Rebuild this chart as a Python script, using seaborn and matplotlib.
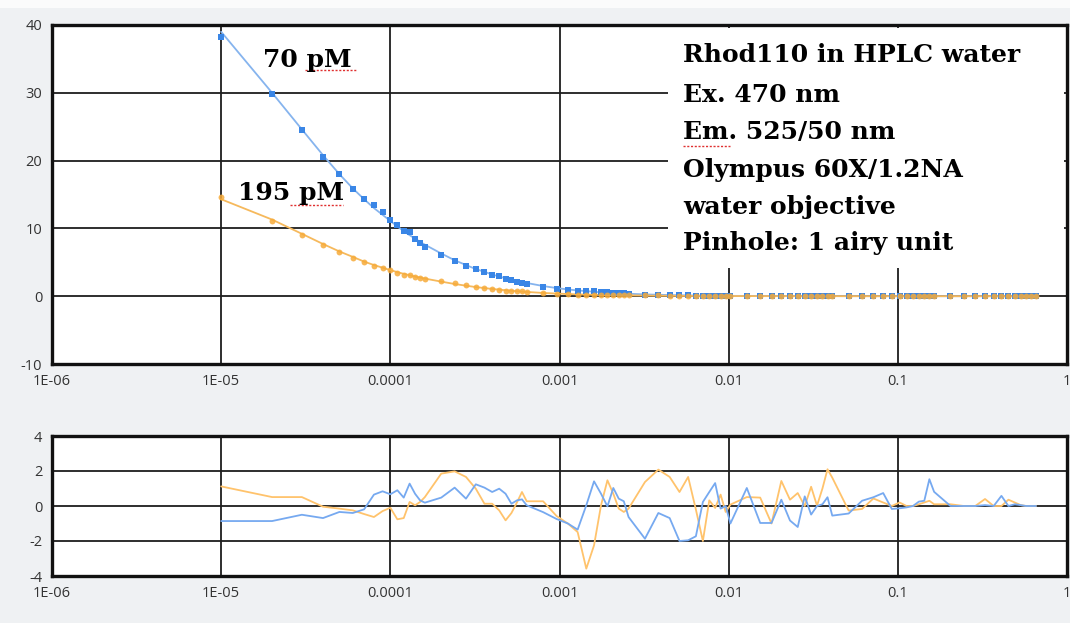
import numpy as np
import pandas as pd
import matplotlib
matplotlib.use("Agg")
import matplotlib.pyplot as plt
import seaborn as sns
from matplotlib.patches import Rectangle
from matplotlib.lines import Line2D

# ---------------- data ----------------
lag = [1e-5, 2e-5, 3e-5, 4e-5, 5e-5, 6e-5, 7e-5, 8e-5, 9e-5, 1.0e-4, 1.1e-4, 1.2e-4, 1.3e-4, 1.4e-4, 1.5e-4, 1.6e-4,
       2.0e-4, 2.4e-4, 2.8e-4, 3.2e-4, 3.6e-4, 4.0e-4, 4.4e-4, 4.8e-4, 5.2e-4, 5.6e-4, 6.0e-4, 6.4e-4,
       8.0e-4, 9.6e-4, 1.12e-3, 1.28e-3, 1.44e-3, 1.6e-3, 1.76e-3, 1.92e-3, 2.08e-3, 2.24e-3, 2.4e-3, 2.56e-3,
       3.2e-3, 3.84e-3, 4.48e-3, 5.12e-3, 5.76e-3, 6.4e-3, 7.04e-3, 7.68e-3, 8.32e-3, 8.96e-3, 9.6e-3, 1.024e-2,
       1.28e-2, 1.536e-2, 1.792e-2, 2.048e-2, 2.304e-2, 2.56e-2, 2.816e-2, 3.072e-2, 3.328e-2, 3.584e-2, 3.84e-2, 4.096e-2,
       5.12e-2, 6.144e-2, 7.168e-2, 8.192e-2, 9.216e-2, 0.1024, 0.11264, 0.12288, 0.13312, 0.14336, 0.1536, 0.16384,
       0.2048, 0.24576, 0.28672, 0.32768, 0.36864, 0.4096, 0.45056, 0.49152, 0.53248, 0.57344, 0.6144, 0.65536]

g70 = [38.3, 29.8, 24.5, 20.6, 18.0, 15.8, 14.3, 13.5, 12.4, 11.2, 10.5, 9.6, 9.4, 8.5, 7.8, 7.3,
       6.1, 5.2, 4.4, 4.0, 3.6, 3.2, 3.0, 2.6, 2.4, 2.1, 2.0, 1.8,
       1.4, 1.1, 0.9, 0.75, 0.72, 0.7, 0.62, 0.6, 0.52, 0.45, 0.4, 0.35,
       0.22, 0.22, 0.18, 0.12, 0.11, 0.1, 0.1, 0.09, 0.09, 0.06, 0.06, 0.04,
       0.05, 0.02, 0.02, 0.03, 0.01, 0.01, 0.03, 0.02, 0.02, 0.03, 0.03, 0.0,
       0.0, 0.01, 0.02, 0.02, 0.0, 0.0, 0.0, 0.0, 0.01, 0.01, 0.03, 0.02,
       0.0, 0.0, 0.0, 0.0, 0.0, 0.01, 0.0, 0.0, 0.0, 0.0, 0.0, 0.0]

fit70 = [39.0, 30.0, 24.6, 20.8, 18.0, 15.9, 14.3, 13.0, 12.0, 11.1, 10.3, 9.6, 9.0, 8.5, 8.0, 7.6,
         6.3, 5.3, 4.6, 4.0, 3.6, 3.2, 2.9, 2.65, 2.45, 2.25, 2.1, 1.95,
         1.5, 1.2, 1.0, 0.85, 0.75, 0.65, 0.58, 0.52, 0.47, 0.43, 0.39, 0.36,
         0.27, 0.21, 0.17, 0.14, 0.12, 0.1, 0.09, 0.08, 0.07, 0.06, 0.06, 0.05,
         0.04, 0.03, 0.03, 0.02, 0.02, 0.02, 0.02, 0.01, 0.01, 0.01, 0.01, 0.01,
         0.01, 0.01, 0.0, 0.0, 0.0, 0.0, 0.0, 0.0, 0.0, 0.0, 0.0, 0.0,
         0.0, 0.0, 0.0, 0.0, 0.0, 0.0, 0.0, 0.0, 0.0, 0.0, 0.0, 0.0]

g195 = [14.6, 11.1, 9.1, 7.55, 6.5, 5.7, 5.0, 4.5, 4.2, 3.85, 3.4, 3.2, 3.1, 2.9, 2.75, 2.6,
        2.3, 1.95, 1.65, 1.4, 1.2, 1.07, 0.95, 0.84, 0.78, 0.76, 0.74, 0.65,
        0.5, 0.35, 0.28, 0.22, 0.12, 0.16, 0.21, 0.2, 0.13, 0.12, 0.11, 0.11,
        0.12, 0.12, 0.1, 0.07, 0.07, 0.04, 0.01, 0.04, 0.03, 0.03, 0.02, 0.02,
        0.02, 0.02, 0.0, 0.03, 0.01, 0.01, 0.0, 0.02, 0.0, 0.02, 0.03, 0.02,
        0.0, 0.0, 0.0, 0.0, 0.0, 0.0, 0.0, 0.0, 0.0, 0.0, 0.0, 0.0,
        0.0, 0.0, 0.0, 0.0, 0.0, 0.0, 0.0, 0.0, 0.0, 0.0, 0.0, 0.0]

fit195 = [14.3, 11.3, 9.2, 7.7, 6.6, 5.8, 5.1, 4.6, 4.2, 3.85, 3.55, 3.3, 3.1, 2.9, 2.75, 2.6,
          2.15, 1.8, 1.55, 1.35, 1.2, 1.07, 0.97, 0.88, 0.8, 0.74, 0.68, 0.63,
          0.48, 0.39, 0.32, 0.27, 0.24, 0.21, 0.19, 0.17, 0.15, 0.14, 0.13, 0.12,
          0.09, 0.07, 0.06, 0.05, 0.04, 0.04, 0.03, 0.03, 0.03, 0.02, 0.02, 0.02,
          0.02, 0.01, 0.01, 0.01, 0.01, 0.01, 0.01, 0.01, 0.01, 0.01, 0.01, 0.01,
          0.0, 0.0, 0.0, 0.0, 0.0, 0.0, 0.0, 0.0, 0.0, 0.0, 0.0, 0.0,
          0.0, 0.0, 0.0, 0.0, 0.0, 0.0, 0.0, 0.0, 0.0, 0.0, 0.0, 0.0]

res70 = [-0.86, -0.86, -0.5, -0.69, -0.34, -0.4, -0.19, 0.65, 0.84, 0.67, 0.9, 0.48, 1.28, 0.7, 0.32, 0.19,
         0.48, 1.05, 0.42, 1.24, 1.05, 0.8, 0.99, 0.7, 0.13, 0.32, 0.38, 0.04,
         -0.35, -0.74, -1.0, -1.35, 0.04, 1.41, 0.7, -0.02, 1.03, 0.42, 0.27, -0.63,
         -1.87, -0.4, -0.69, -2.0, -1.96, -1.73, 0.23, 0.8, 1.31, -0.15, 0.0, -1.0,
         1.03, -0.97, -0.97, 0.36, -0.83, -1.2, 0.55, -0.49, 0.0, 0.1, 0.5, -0.55,
         -0.43, 0.3, 0.5, 0.74, -0.17, -0.13, -0.08, 0.0, 0.25, 0.3, 1.53, 0.81,
         0.0, 0.0, 0.0, 0.05, 0.0, 0.58, 0.0, 0.1, 0.05, 0.0, 0.0, 0.0]

res195 = [1.12, 0.51, 0.51, -0.04, -0.15, -0.25, -0.46, -0.63, -0.29, -0.1, -0.76, -0.69, 0.23, 0.04, 0.23, 0.51,
          1.85, 1.98, 1.66, 0.99, 0.13, 0.13, -0.25, -0.82, -0.4, 0.2, 0.8, 0.27,
          0.27, -0.57, -1.0, -1.49, -3.58, -2.25, 0.04, 1.47, 0.7, -0.15, -0.34, -0.15,
          1.37, 2.08, 1.66, 0.8, 1.66, -0.2, -2.0, 0.32, -0.11, 0.65, -0.34, 0.08,
          0.51, 0.48, -1.0, 1.43, 0.36, 0.74, 0.0, 1.1, 0.02, 1.0, 2.1, 1.62,
          -0.26, -0.17, 0.43, 0.2, 0.0, 0.2, 0.0, 0.0, 0.1, 0.2, 0.3, 0.1,
          0.1, 0.0, 0.0, 0.4, 0.0, 0.0, 0.36, 0.2, 0.05, 0.0, 0.0, 0.0]

xticks = [1e-6, 1e-5, 1e-4, 1e-3, 1e-2, 1e-1, 1]
xticklabels = ["1E-06", "1E-05", "0.0001", "0.001", "0.01", "0.1", "1"]
yticks_top = [-10, 0, 10, 20, 30, 40]
yticks_res = [-4, -2, 0, 2, 4]
info_lines = ["Rhod110 in HPLC water", "Ex. 470 nm", "Em. 525/50 nm",
              "Olympus 60X/1.2NA", "water objective", "Pinhole: 1 airy unit"]
label70 = "70 pM"
label195 = "195 pM"

df = pd.DataFrame({"lag": lag, "g70": g70, "fit70": fit70, "g195": g195,
                   "fit195": fit195, "res70": res70, "res195": res195})

# ---------------- style ----------------
sns.set_theme(style="white")
plt.rcParams['font.family'] = ['Open Sans', 'DejaVu Sans']

BLUE_M = '#3a86e6'
BLUE_L = '#86b4ee'
BLUE_R = '#76a9f0'
ORG_M = '#f6ab3a'
ORG_L = '#f6b95c'
ORG_R = '#ffc36c'
W, H = 1070, 623

fig = plt.figure(figsize=(W / 100, H / 100), dpi=100, facecolor='#eff1f3')
fig.patches.append(Rectangle((0, 1 - 8 / H), 1, 8 / H, transform=fig.transFigure,
                             facecolor='#fbfbfb', edgecolor='none', zorder=0))
ax1 = fig.add_axes([52 / W, 1 - 364 / H, 1015 / W, 339 / H])
ax2 = fig.add_axes([52 / W, 1 - 576 / H, 1015 / W, 140 / H])


def style_axes(ax, yt, ylim):
    ax.set_facecolor('white')
    ax.set_xscale('log')
    ax.set_xlim(1e-6, 1)
    ax.set_ylim(*ylim)
    ax.set_xticks(xticks)
    ax.set_xticklabels(xticklabels)
    ax.minorticks_off()
    ax.set_yticks(yt)
    ax.set_yticklabels([str(v) for v in yt])
    ax.set_axisbelow(True)
    ax.grid(True, color='#1e1e1e', lw=1.3)
    for sp in ax.spines.values():
        sp.set_color('#111111')
        sp.set_linewidth(2.4)
    ax.tick_params(axis='both', direction='out', length=5, width=1.2, color='#333333',
                   labelsize=10.5, labelcolor='#333333', pad=2)
    ax.set_xlabel('')
    ax.set_ylabel('')


# ---------------- top panel ----------------
sns.lineplot(data=df, x='lag', y='fit70', ax=ax1, color=BLUE_L, lw=1.3, estimator=None, sort=False, zorder=3)
sns.lineplot(data=df, x='lag', y='fit195', ax=ax1, color=ORG_L, lw=1.3, estimator=None, sort=False, zorder=3)
sns.scatterplot(data=df, x='lag', y='g70', ax=ax1, color=BLUE_M, marker='s', s=17, linewidth=0, zorder=4)
sns.scatterplot(data=df, x='lag', y='g195', ax=ax1, color=ORG_M, marker='o', s=18, linewidth=0, alpha=0.85, zorder=5)
style_axes(ax1, yticks_top, (-10, 40))

# white box behind info text
ax1.add_patch(Rectangle((616 / 1015, (364 - 268) / 339), 396 / 1015, (268 - 28) / 339,
                        transform=ax1.transAxes, facecolor='white', edgecolor='none', zorder=1))

serif = dict(family=['DejaVu Serif'], fontweight='bold', color='black')
ys = [55, 95, 132, 170, 207, 243]
for txt, y in zip(info_lines, ys):
    fig.text(683 / W, 1 - y / H, txt, fontsize=18, ha='left', va='center', **serif)
fig.text(263 / W, 1 - 60 / H, label70, fontsize=18, ha='left', va='center', **serif)
fig.text(238 / W, 1 - 193 / H, label195, fontsize=18, ha='left', va='center', **serif)

# spell-check squiggles under "pM" and "Em"
for x0, x1, y in [(305, 356, 70), (290, 343, 205), (683, 730, 146)]:
    fig.add_artist(Line2D([x0 / W, x1 / W], [1 - y / H, 1 - y / H], transform=fig.transFigure,
                          color='#e03030', lw=1.0, linestyle=(0, (1.5, 1.2))))

# ---------------- residual panel ----------------
sns.lineplot(data=df, x='lag', y='res195', ax=ax2, color=ORG_R, lw=1.3, estimator=None, sort=False, zorder=3)
sns.lineplot(data=df, x='lag', y='res70', ax=ax2, color=BLUE_R, lw=1.3, estimator=None, sort=False, zorder=3)
style_axes(ax2, yticks_res, (-4, 4))

fig.savefig('out.png', dpi=100, facecolor=fig.get_facecolor())
